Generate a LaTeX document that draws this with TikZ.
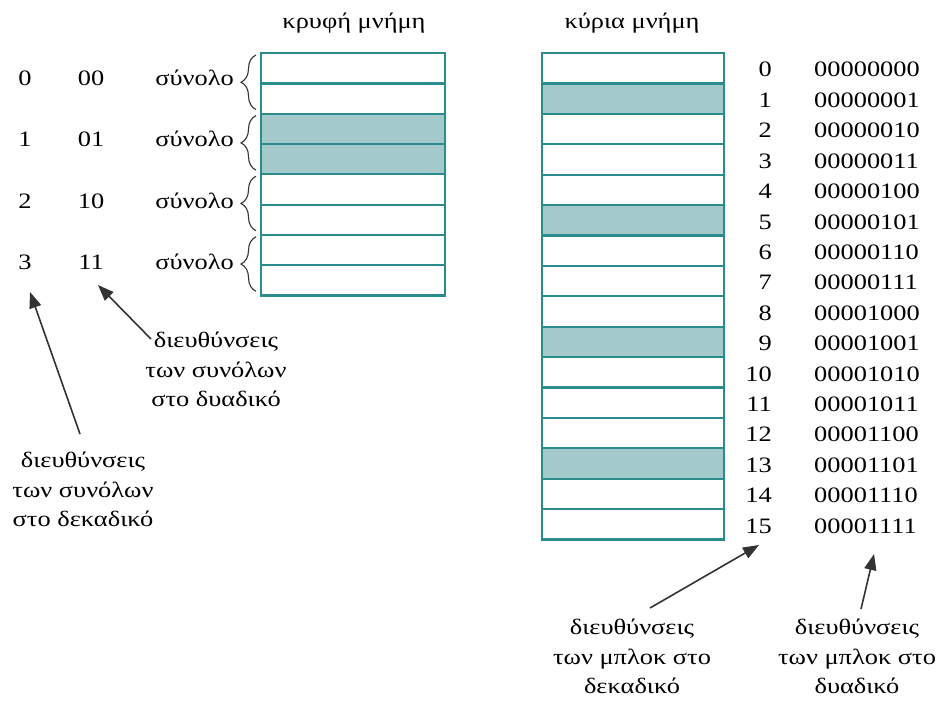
\documentclass[tikz,border=0pt]{standalone}
\usepackage{fontspec}
\setmainfont{Liberation Serif}[FakeStretch=1.2]
\usetikzlibrary{arrows.meta,decorations.pathreplacing}
\definecolor{tealline}{HTML}{2A8C8C}
\definecolor{tealfill}{HTML}{A3C9CA}
\definecolor{inkgray}{HTML}{333333}
\tikzset{
  txt/.style={font=\fontsize{22}{29}\selectfont, inner sep=0pt, anchor=base},
  lbl/.style={font=\fontsize{22}{29.5}\selectfont, inner sep=0pt, align=center, anchor=north},
  cell/.style={draw=tealline, line width=2.2pt, minimum width=#1, minimum height=30.3pt, inner sep=0pt, anchor=north west},
  hit/.style={fill=tealfill},
  setbrace/.style={decorate, decoration={brace, amplitude=15pt}, draw=inkgray, line width=1.1pt},
  arr/.style={draw=inkgray, line width=1.6pt, -{Triangle[length=16pt,width=12pt]}},
}
\begin{document}
\begin{tikzpicture}[x=1pt,y=-1pt]
\useasboundingbox (0,0) rectangle (936,701);

% headings
\node[txt] (hcache) at (354,29) {κρυφή μνήμη};
\node[txt] (hmain) at (632,29) {κύρια μνήμη};

% cache: 4 sets of 2 lines
\foreach \i in {0,...,7}{
  \ifnum\i>1 \ifnum\i<4 \def\cf{hit}\else\def\cf{}\fi\else\def\cf{}\fi
  \node[cell=184pt, \cf] (c\i) at (260,{52+30.3*\i}) {};
}

% main memory: 16 blocks
\foreach \i in {0,...,15}{
  \node[cell=182pt] (m\i) at (541,{52+30.4*\i}) {};
}
\foreach \i in {1,5,9,13}{
  \node[cell=182pt, hit] (h\i) at (541,{52+30.4*\i}) {};
}

% set labels and braces
\foreach \s/\d/\b in {0/0/00,1/1/01,2/2/10,3/3/11}{
  \node[txt] (sd\s) at (25,{85+61.6*\s}) {\d};
  \node[txt] (sb\s) at (91,{85+61.6*\s}) {\b};
  \node[txt, anchor=base east] (sn\s) at (234,{85+61.6*\s}) {σύνολο};
  \draw[setbrace] (256,{52+60.6*\s+57.5}) -- (256,{52+60.6*\s+3});
}

% block addresses
\foreach \i/\b in {0/00000000,1/00000001,2/00000010,3/00000011,4/00000100,5/00000101,6/00000110,7/00000111,8/00001000,9/00001001,10/00001010,11/00001011,12/00001100,13/00001101,14/00001110,15/00001111}{
  \node[txt, anchor=base east] (bd\i) at (772,{77+30.4*\i}) {\i};
  \node[txt, anchor=base west] (bb\i) at (814,{77+30.4*\i}) {\b};
}

% explanatory labels
\node[lbl] (ldec) at (83,452) {διευθύνσεις\\των συνόλων\\στο δεκαδικό};
\node[lbl] (lbin) at (216,332) {διευθύνσεις\\των συνόλων\\στο δυαδικό};
\node[lbl] (rdec) at (632,619) {διευθύνσεις\\των μπλοκ στο\\δεκαδικό};
\node[lbl] (rbin) at (857,619) {διευθύνσεις\\των μπλοκ στο\\δυαδικό};

% arrow ends
\coordinate (tA) at (30,292);
\coordinate (sA) at (80,434);
\coordinate (tB) at (98,285);
\coordinate (sB) at (151,339);
\coordinate (tC) at (759,545);
\coordinate (sC) at (650,608);
\coordinate (tD) at (874,554);
\coordinate (sD) at (861,609);

\draw[arr] (sA) -- (tA);
\draw[arr] (sB) -- (tB);
\draw[arr] (sC) -- (tC);
\draw[arr] (sD) -- (tD);
\end{tikzpicture}
\end{document}
